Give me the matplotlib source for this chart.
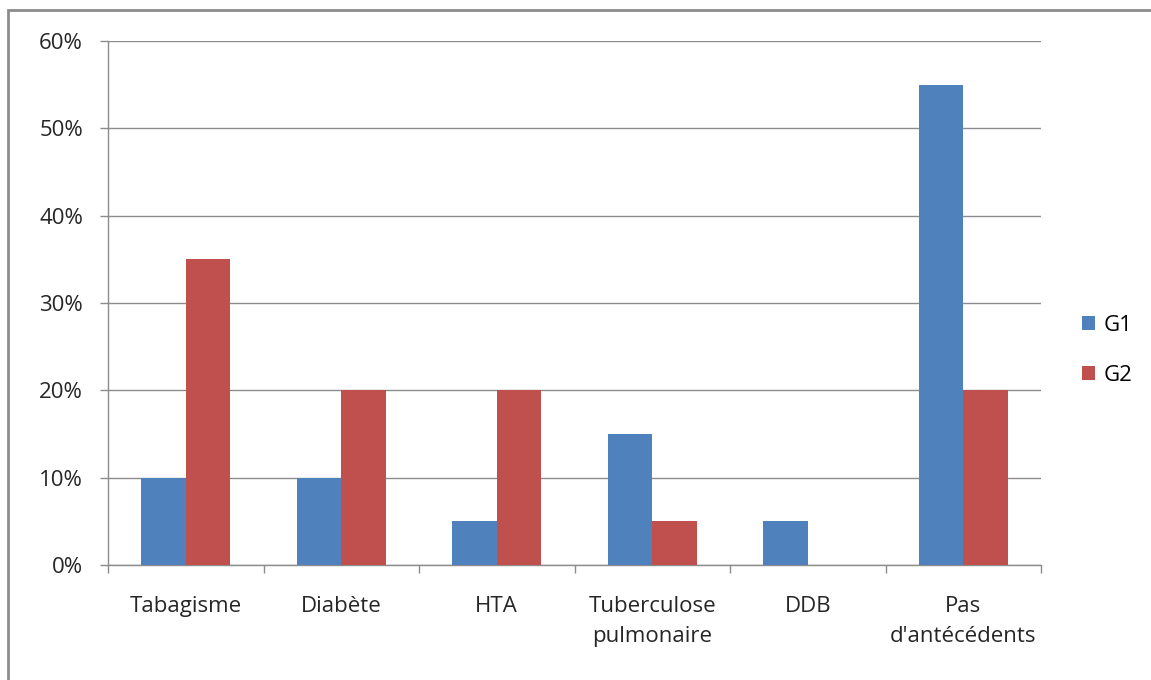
import matplotlib
matplotlib.use("Agg")
import matplotlib.pyplot as plt
from matplotlib.patches import Rectangle
from matplotlib.ticker import PercentFormatter
import numpy as np

categories = ["Tabagisme", "Diabète", "HTA", "Tuberculose\npulmonaire", "DDB", "Pas\nd'antécédents"]
g1 = [10, 10, 5, 15, 5, 55]
g2 = [35, 20, 20, 5, 0, 20]
series_names = ["G1", "G2"]
yticks = [0, 10, 20, 30, 40, 50, 60]

plt.rcParams['font.family'] = ['Open Sans', 'DejaVu Sans']
FS = 16

fig = plt.figure(figsize=(11.51, 6.8), dpi=100)
ax = fig.add_axes([108/1151, 1 - 565/680, (1041 - 108)/1151, (565 - 41)/680])

# outer chart frame
fig.patches.append(Rectangle((8/1151, -0.1), 1.2, 1 - 10/680 + 0.1, transform=fig.transFigure,
                             fill=False, edgecolor="#8c8c8c", linewidth=2, zorder=0))

x = np.arange(len(categories))
w = 1 / 3.5
ax.bar(x - w/2, g1, width=w, color="#4F81BD", label=series_names[0], zorder=3)
ax.bar(x + w/2, g2, width=w, color="#C0504D", label=series_names[1], zorder=3)

ax.set_xlim(-0.5, len(categories) - 0.5)
ax.set_ylim(0, 60)
ax.set_yticks(yticks)
ax.yaxis.set_major_formatter(PercentFormatter(decimals=0))
ax.yaxis.grid(True, color="#8c8c8c", linewidth=1)
ax.set_axisbelow(True)

ax.set_xticks(x)
ax.set_xticklabels(categories, fontsize=FS, color="#262626", linespacing=1.6)
ax.set_xticks(np.arange(-0.5, len(categories)), minor=True)
ax.tick_params(axis="x", which="major", length=0, pad=22)
ax.tick_params(axis="x", which="minor", length=6, color="#8c8c8c", width=1)
ax.tick_params(axis="y", length=6, color="#8c8c8c", width=1, pad=12, labelsize=FS, labelcolor="#262626")

for s in ["top", "right"]:
    ax.spines[s].set_visible(False)
for s in ["left", "bottom"]:
    ax.spines[s].set_color("#8c8c8c")
    ax.spines[s].set_linewidth(1)

ax.legend(loc="center left", bbox_to_anchor=(1.022, 0.41), frameon=False, fontsize=FS,
          handlelength=0.6, handleheight=0.6, handletextpad=0.4, labelspacing=1.3)

fig.savefig("out.png", dpi=100)
